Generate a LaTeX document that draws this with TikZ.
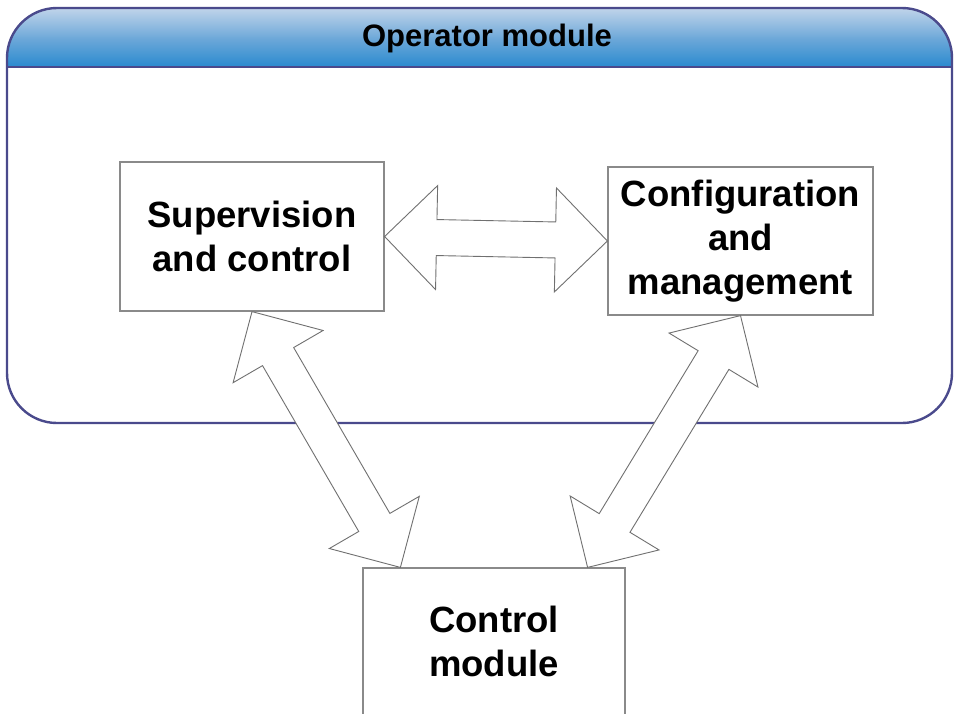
\documentclass[tikz,border=0pt]{standalone}
\usepackage{fontspec}
\setmainfont{Liberation Sans}
\usetikzlibrary{calc}
\definecolor{frameblue}{HTML}{4A4A8C}
\definecolor{headtop}{HTML}{C0D4EA}
\definecolor{headmid}{HTML}{6FA9D9}
\definecolor{headbot}{HTML}{2A8ACF}
\definecolor{boxgray}{HTML}{8A8A8A}
\definecolor{arrgray}{HTML}{707070}
\tikzset{
  x=1pt, y=-1pt,
  modbox/.style={draw=boxgray, line width=1.2pt, fill=white, inner sep=0pt,
    align=center, font=\fontsize{36.5}{44}\selectfont\bfseries},
  arrowline/.style={draw=arrgray, line width=0.9pt, fill=white, line join=miter},
  headtext/.style={font=\fontsize{31}{36}\selectfont\bfseries, inner sep=0pt},
}
\newcommand\dblarrow[2]{%
  \path ($(#1)!52pt!(#2)$) coordinate (ha) ($(#2)!52pt!(#1)$) coordinate (hb);
  \draw[arrowline] (#1) -- ($(ha)!52pt!90:(#2)$) -- ($(ha)!18pt!90:(#2)$)
    -- ($(hb)!18pt!-90:(#1)$) -- ($(hb)!52pt!-90:(#1)$) -- (#2)
    -- ($(hb)!52pt!90:(#1)$) -- ($(hb)!18pt!90:(#1)$)
    -- ($(ha)!18pt!-90:(#2)$) -- ($(ha)!52pt!-90:(#2)$) -- cycle;
}
\begin{document}
\begin{tikzpicture}
\clip (0,0) rectangle (955,713);
\fill[white] (0,0) rectangle (955,713);
% operator module frame
\begin{scope}
  \clip[rounded corners=50pt] (7,8) rectangle (952,423);
  \shade[top color=headtop, bottom color=headmid] (0,8) rectangle (955,38);
  \shade[top color=headmid, bottom color=headbot] (0,37.5) rectangle (955,67);
\end{scope}
\draw[frameblue, line width=2.4pt] (7,67) -- (952,67);
\draw[frameblue, line width=2.4pt, rounded corners=50pt] (7,8) rectangle (952,423);
\node[headtext] (op) at (487,38) {Operator module};
% boxes
\node[modbox, minimum width=264pt, minimum height=149pt] (sup) at (252,236.5) {Supervision\\and control};
\node[modbox, minimum width=265pt, minimum height=148pt] (cfg) at (740.5,241) {Configuration\\and\\management};
\node[modbox, minimum width=262pt, minimum height=147pt] (ctl) at (494,641.5) {Control\\module};
\coordinate (ctlL) at ($(ctl.north west)+(38,0)$);
\coordinate (ctlR) at ($(ctl.north east)+(-38,0)$);
% arrows
\dblarrow{sup.east}{cfg.west}
\dblarrow{sup.south}{ctlL}
\dblarrow{cfg.south}{ctlR}
\end{tikzpicture}
\end{document}
